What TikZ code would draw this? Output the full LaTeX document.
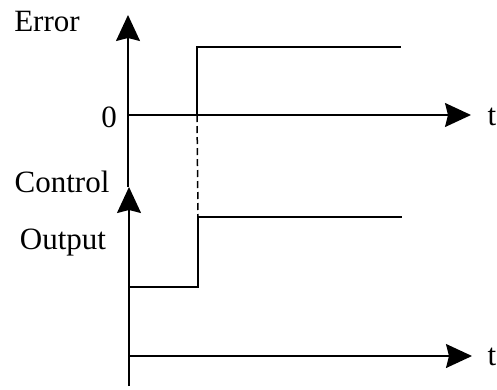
\documentclass[tikz,border=0pt]{standalone}
\usepackage{fontspec}
\setmainfont{Liberation Serif}
\usetikzlibrary{arrows.meta}
\begin{document}
\begin{tikzpicture}[x=1pt, y=-1pt, line width=1.5pt,
    axis/.style={-{Stealth[length=26pt, width=24pt, inset=3pt]}},
    lbl/.style={anchor=base, font=\fontsize{31}{36}\selectfont}]
    \useasboundingbox (0,0) rectangle (497,389);

    % upper plot: error
    \coordinate (etop) at (128,15);
    \coordinate (ebot) at (128,187);
    \coordinate (ezero) at (128,115);
    \coordinate (eend) at (471,115);
    \coordinate (estep) at (197,115);
    \coordinate (ehigh) at (197,47);
    \coordinate (eright) at (401,47);

    % lower plot: control output
    \coordinate (ctop) at (129,187);
    \coordinate (cbot) at (129,386);
    \coordinate (czero) at (129,356);
    \coordinate (cend) at (472,356);
    \coordinate (clow) at (129,287);
    \coordinate (cstep) at (198,287);
    \coordinate (chigh) at (198,217);
    \coordinate (cright) at (402,217);

    \node (error) [lbl] at (47,31) {Error};
    \node (zero) [lbl] at (109,127) {0};
    \node (t1) [lbl] at (492,125) {t};
    \node (control) [lbl] at (62,192) {Control};
    \node (output) [lbl] at (63,249) {Output};
    \node (t2) [lbl] at (492,365) {t};

    \draw[axis] (ebot) -- (etop);
    \draw[axis] (ezero) -- (eend);
    \draw (estep) -- (ehigh) -- (eright);
    \draw[dashed, line width=1.5pt, dash pattern=on 7pt off 4pt] (estep) -- (chigh);

    \draw[axis] (cbot) -- (ctop);
    \draw[axis] (czero) -- (cend);
    \draw (clow) -- (cstep) -- (chigh) -- (cright);
\end{tikzpicture}
\end{document}
